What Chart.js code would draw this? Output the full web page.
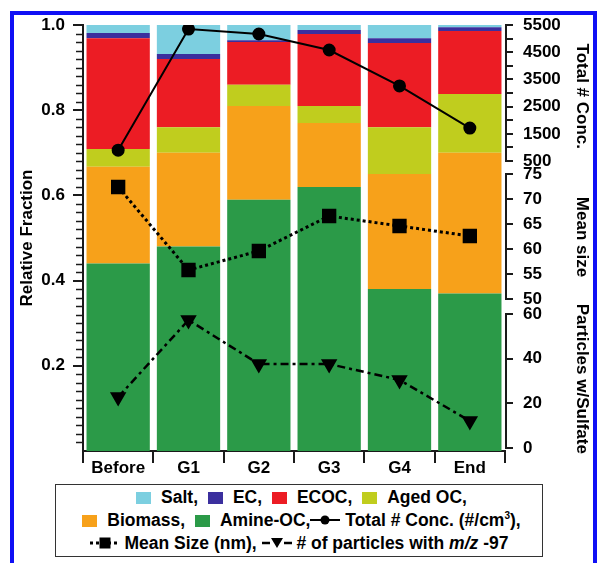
<!DOCTYPE html>
<html><head><meta charset="utf-8">
<script src="https://cdn.jsdelivr.net/npm/chart.js@4.4.0/dist/chart.umd.min.js"></script>
<style>
html,body{margin:0;padding:0;background:#fff;width:598px;height:563px;overflow:hidden;font-family:"Liberation Sans",Arial,sans-serif;}
#frame{position:absolute;left:10px;top:11px;width:579px;height:600px;border:4px solid #1010f5;}
#chart{position:absolute;left:0;top:0;}
#legend{position:absolute;left:55px;top:484px;width:488px;height:73px;box-sizing:border-box;border:1.5px solid #333;background:#fff;text-align:center;font-weight:bold;font-size:17.5px;line-height:23px;padding-top:1px;color:#000;white-space:nowrap;}
#legend div{height:23px;}
.sq{display:inline-block;width:15px;height:12px;margin:0 10px 0 5px;vertical-align:-1px;}
.mk{display:inline-block;vertical-align:0px;}
sup{font-size:10px;line-height:0;vertical-align:7px;}
</style></head>
<body>
<div id="frame"></div>
<canvas id="chart" width="598" height="482"></canvas>
<div id="legend"></div>
<script>
// ---- data ----
const categories = ['Before', 'G1', 'G2', 'G3', 'G4', 'End'];
const amineOC = [0.44, 0.48, 0.59, 0.62, 0.38, 0.37];
const biomass = [0.227, 0.22, 0.22, 0.15, 0.27, 0.33];
const agedOC  = [0.042, 0.06, 0.05, 0.04, 0.11, 0.138];
const ecoc    = [0.26, 0.16, 0.10, 0.169, 0.198, 0.148];
const ec      = [0.012, 0.012, 0.004, 0.009, 0.011, 0.009];
const salt    = [0.019, 0.068, 0.036, 0.012, 0.031, 0.008];
const totalConc = [900, 5350, 5170, 4580, 3260, 1710];
const meanSize = [72.4, 55.8, 59.6, 66.6, 64.6, 62.6];
const sulfateParticles = [22.8, 57.3, 37.6, 37.6, 30.5, 12.1];
const fractionTicks = [0.2, 0.4, 0.6, 0.8, 1.0];
const concTicks = [500, 1000, 1500, 2000, 2500, 3000, 3500, 4000, 4500, 5000, 5500];
const concLabelTicks = [500, 1500, 2500, 3500, 4500, 5500];
const sizeTicks = [50, 55, 60, 65, 70, 75];
const sulfateTicks = [0, 20, 40, 60];
const barNames = ['Amine-OC', 'Biomass', 'Aged OC', 'ECOC', 'EC', 'Salt'];
const barColors = ['#2b9a48', '#f7a11a', '#c0cd1e', '#ec1c24', '#3b2f9e', '#7ccfe0'];
const barSeries = [amineOC, biomass, agedOC, ecoc, ec, salt];

const FONT = {family: '"Liberation Sans", Arial, sans-serif', size: 17, weight: 'bold'};
const AX = '#1a1a1a';

const decor = {
  id: 'decor',
  afterDraw(chart) {
    const ctx = chart.ctx;
    ctx.save();
    ctx.strokeStyle = AX;
    ctx.lineWidth = 2;
    ['yConc', 'ySize', 'ySulf'].forEach(id => {
      const s = chart.scales[id];
      const vals = s.ticks.map(t => t.value);
      const y1 = s.getPixelForValue(Math.max(...vals));
      const y2 = s.getPixelForValue(Math.min(...vals));
      ctx.beginPath();
      ctx.moveTo(s.left + 1, y1 - 1);
      ctx.lineTo(s.left + 1, y2 + 1);
      ctx.stroke();
    });
    const y = chart.scales.y;
    ctx.lineWidth = 1.5;
    for (let i = 1; i < 50; i++) {
      if (i % 10 === 0) continue;
      const py = Math.round(y.getPixelForValue(i / 50)) + 0.5;
      ctx.beginPath();
      ctx.moveTo(y.right - 7, py);
      ctx.lineTo(y.right, py);
      ctx.stroke();
    }
    ctx.restore();
  }
};

const lineSets = [
  {type: 'line', label: 'Total # Conc.', data: totalConc, yAxisID: 'yConc', borderColor: '#000', borderWidth: 2,
   pointStyle: 'circle', pointRadius: 5.5, pointBackgroundColor: '#000', pointBorderColor: '#000', order: 0},
  {type: 'line', label: 'Mean Size', data: meanSize, yAxisID: 'ySize', borderColor: '#000', borderWidth: 3, borderDash: [3, 3],
   pointStyle: 'rect', pointRadius: 8, pointBackgroundColor: '#000', pointBorderColor: '#000', order: 0},
  {type: 'line', label: '# of particles with m/z -97', data: sulfateParticles, yAxisID: 'ySulf', borderColor: '#000', borderWidth: 2.5,
   borderDash: [8, 4, 3, 4], pointStyle: 'triangle', pointRotation: 180, pointRadius: 7, pointBackgroundColor: '#000', pointBorderColor: '#000', order: 0}
];
const barSets = barSeries.map((d, i) => ({
  type: 'bar', label: barNames[i], data: d, yAxisID: 'y', backgroundColor: barColors[i], borderWidth: 0,
  barPercentage: 0.9, categoryPercentage: 1.0, order: 1
}));

const rightAxis = (weight, stackWeight, min, max, ticksArr, title, cb) => ({
  position: 'right', stack: 'right', weight: weight, stackWeight: stackWeight, min: min, max: max,
  afterBuildTicks: s => { s.ticks = ticksArr.map(v => ({value: v})); },
  afterFit: s => { s.width = 93; },
  border: {display: false},
  grid: {drawOnChartArea: false, drawTicks: true, tickLength: 8, lineWidth: 2, color: AX},
  ticks: {color: '#000', font: FONT, padding: 10, autoSkip: false, callback: cb},
  title: {display: true, text: title, color: '#000', font: FONT, padding: {top: 6, bottom: 0}}
});

new Chart(document.getElementById('chart'), {
  type: 'bar',
  data: {labels: categories, datasets: [...lineSets, ...barSets]},
  options: {
    responsive: false, animation: false,
    layout: {padding: {top: 25, left: 0, right: 0, bottom: 0}},
    plugins: {legend: {display: false}, tooltip: {enabled: false}},
    scales: {
      x: {stacked: true, offset: true,
          grid: {offset: true, drawOnChartArea: false, drawTicks: true, tickLength: 12, lineWidth: 2, color: AX},
          border: {display: true, width: 2, color: AX},
          ticks: {color: '#000', font: FONT, padding: -5, maxRotation: 0, autoSkip: false},
          afterFit: s => { s.height = 31; }},
      y: {position: 'left', stacked: true, min: 0, max: 1,
          afterBuildTicks: s => { s.ticks = fractionTicks.map(v => ({value: v})); },
          afterFit: s => { s.width = 83; },
          grid: {drawOnChartArea: false, drawTicks: true, tickLength: 10, lineWidth: 2, color: AX},
          border: {display: true, width: 2, color: AX},
          ticks: {color: '#000', font: FONT, padding: 8, callback: v => v.toFixed(1)},
          title: {display: true, text: 'Relative Fraction', color: '#000', font: FONT, padding: {top: 17, bottom: 0}}},
      yConc: rightAxis(0, 142.5, 262, 5500, concTicks, 'Total # Conc.', v => concLabelTicks.includes(v) ? String(v) : ''),
      ySize: rightAxis(1, 139, 48.5, 76.3, sizeTicks, 'Mean size', v => String(v)),
      ySulf: rightAxis(2, 144.5, -1.34, 63.36, sulfateTicks, 'Particles w/Sulfate', v => String(v))
    }
  },
  plugins: [decor]
});

// ---- HTML legend (keeps superscript / italic text) ----
const colorOf = name => barColors[barNames.indexOf(name)];
const sq = name => `<span class="sq" style="background:${colorOf(name)}"></span>`;
const mkConc = `<svg class="mk" width="30" height="12"><line x1="0" y1="6" x2="30" y2="6" stroke="#000" stroke-width="2"/><circle cx="15" cy="6" r="4.5" fill="#000"/></svg>`;
const mkSize = `<svg class="mk" width="30" height="12"><line x1="0" y1="6" x2="30" y2="6" stroke="#000" stroke-width="3" stroke-dasharray="3,3"/><rect x="9.5" y="0.5" width="11" height="11" fill="#000"/></svg>`;
const mkSulf = `<svg class="mk" width="30" height="12"><line x1="0" y1="6" x2="8" y2="6" stroke="#000" stroke-width="2.5"/><line x1="22" y1="6" x2="30" y2="6" stroke="#000" stroke-width="2.5"/><polygon points="9,1 21,1 15,11" fill="#000"/></svg>`;
document.getElementById('legend').innerHTML =
  `<div>${sq('Salt')}Salt, ${sq('EC')}EC, ${sq('ECOC')}ECOC, ${sq('Aged OC')}Aged OC,</div>` +
  `<div>${sq('Biomass')}Biomass, ${sq('Amine-OC')}Amine-OC,${mkConc} Total # Conc. (#/cm<sup>3</sup>),</div>` +
  `<div>${mkSize} Mean Size (nm), ${mkSulf} # of particles with <i>m/z</i> -97</div>`;
</script>
</body></html>
